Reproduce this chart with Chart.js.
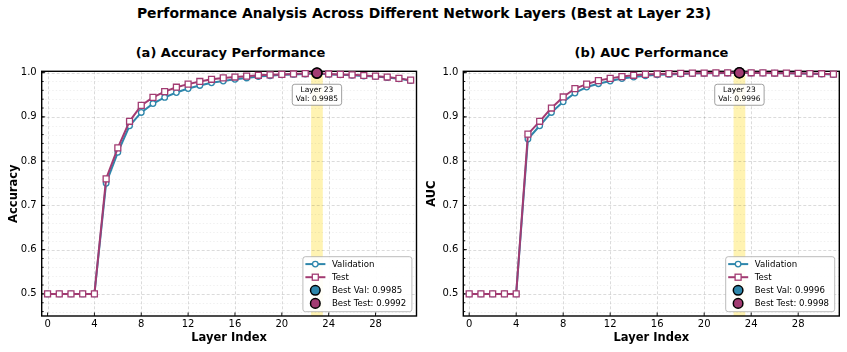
<!DOCTYPE html>
<html><head><meta charset="utf-8">
<script src="https://cdn.jsdelivr.net/npm/chart.js@4.4.1/dist/chart.umd.min.js"></script>
<style>
body{margin:0;background:#fff;width:847px;height:352px;overflow:hidden;position:relative;font-family:'DejaVu Sans',sans-serif;}
.t{position:absolute;font-weight:bold;white-space:nowrap;transform:translate(-50%,-50%);line-height:1;color:#000;}
#c1{position:absolute;left:0;top:0;width:423px;height:352px}
#c2{position:absolute;left:422px;top:0;width:425px;height:352px}
</style></head><body>
<div class="t" style="left:424px;top:14px;font-size:13.9px">Performance Analysis Across Different Network Layers (Best at Layer 23)</div>
<div class="t" style="left:230.5px;top:52px;font-size:13px">(a) Accuracy Performance</div>
<div class="t" style="left:651.5px;top:52px;font-size:13px">(b) AUC Performance</div>
<canvas id="c1" width="423" height="352"></canvas>
<canvas id="c2" width="425" height="352"></canvas>
<script>
const layers = [0,1,2,3,4,5,6,7,8,9,10,11,12,13,14,15,16,17,18,19,20,21,22,23,24,25,26,27,28,29,30,31];
const accVal  = [0.5,0.5,0.5,0.5,0.5,0.75,0.82,0.88,0.91,0.93,0.944,0.955,0.964,0.971,0.977,0.981,0.985,0.988,0.991,0.993,0.995,0.996,0.997,0.9985,0.996,0.995,0.994,0.9925,0.991,0.989,0.986,0.982];
const accTest = [0.5,0.5,0.5,0.5,0.5,0.76,0.83,0.89,0.926,0.944,0.957,0.967,0.974,0.98,0.985,0.988,0.99,0.992,0.994,0.995,0.996,0.997,0.998,0.9992,0.997,0.996,0.995,0.9935,0.992,0.99,0.987,0.983];
const aucVal  = [0.5,0.5,0.5,0.5,0.5,0.85,0.88,0.91,0.934,0.954,0.9675,0.975,0.981,0.9865,0.99,0.993,0.995,0.996,0.997,0.9978,0.9984,0.9988,0.9992,0.9996,0.9992,0.999,0.9987,0.9984,0.998,0.9976,0.997,0.9955];
const aucTest = [0.5,0.5,0.5,0.5,0.5,0.861,0.89,0.92,0.945,0.964,0.974,0.982,0.987,0.991,0.994,0.996,0.997,0.9977,0.9983,0.9988,0.9991,0.9994,0.9996,0.9998,0.9996,0.9994,0.9991,0.9988,0.9985,0.998,0.9975,0.9965];
const bestLayer = 23;
const accBest = [0.9985, 0.9992];
const aucBest = [0.9996, 0.9998];
const xTicks = [0,4,8,12,16,20,24,28];
const yTicks = [0.5,0.6,0.7,0.8,0.9,1.0];

const BLUE = '#2E86AB', MAG = '#A23B72';
Chart.defaults.font.family = "'DejaVu Sans', sans-serif";
Chart.defaults.color = '#000';

function rr(ctx, x, y, w, h, r) {
  ctx.beginPath();
  ctx.moveTo(x + r, y);
  ctx.lineTo(x + w - r, y); ctx.arcTo(x + w, y, x + w, y + r, r);
  ctx.lineTo(x + w, y + h - r); ctx.arcTo(x + w, y + h, x + w - r, y + h, r);
  ctx.lineTo(x + r, y + h); ctx.arcTo(x, y + h, x, y + h - r, r);
  ctx.lineTo(x, y + r); ctx.arcTo(x, y, x + r, y, r);
  ctx.closePath();
}

const decor = {
  id: 'decor',
  beforeDatasetsDraw(chart) {
    const {ctx, chartArea: a, scales: {x, y}} = chart;
    ctx.save();
    ctx.beginPath(); ctx.rect(a.left, a.top, a.width, a.height); ctx.clip();
    const x0 = x.getPixelForValue(bestLayer - 0.5), x1 = x.getPixelForValue(bestLayer + 0.5);
    ctx.fillStyle = 'rgba(255,215,0,0.3)';
    ctx.fillRect(x0, a.top, x1 - x0, a.height);
    ctx.strokeStyle = 'rgba(0,0,0,0.10)'; ctx.lineWidth = 0.6; ctx.setLineDash([1.5, 2]);
    for (let i = 0; i <= 30; i++) {
      const v = 0.44 + i * 0.02;
      if (Math.abs(v * 10 - Math.round(v * 10)) < 1e-6) continue;
      const py = Math.round(y.getPixelForValue(v)) + 0.5;
      ctx.beginPath(); ctx.moveTo(a.left, py); ctx.lineTo(a.right, py); ctx.stroke();
    }
    ctx.strokeStyle = 'rgba(0,0,0,0.18)'; ctx.lineWidth = 0.8; ctx.setLineDash([3, 2]);
    for (const v of yTicks) {
      const py = Math.round(y.getPixelForValue(v)) + 0.5;
      ctx.beginPath(); ctx.moveTo(a.left, py); ctx.lineTo(a.right, py); ctx.stroke();
    }
    for (const v of xTicks) {
      const px = Math.round(x.getPixelForValue(v)) + 0.5;
      ctx.beginPath(); ctx.moveTo(px, a.top); ctx.lineTo(px, a.bottom); ctx.stroke();
    }
    ctx.restore();
    ctx.save();
    ctx.strokeStyle = '#000'; ctx.lineWidth = 0.9;
    for (const v of yTicks) {
      const py = y.getPixelForValue(v);
      ctx.beginPath(); ctx.moveTo(a.left, py); ctx.lineTo(a.left + 3.5, py); ctx.stroke();
    }
    for (let i = 0; i <= 30; i++) {
      const v = 0.44 + i * 0.02;
      if (v < 0.45 || v > 1.003) continue;
      const py = y.getPixelForValue(v);
      ctx.beginPath(); ctx.moveTo(a.left, py); ctx.lineTo(a.left + 2, py); ctx.stroke();
    }
    for (const v of xTicks) {
      const px = x.getPixelForValue(v);
      ctx.beginPath(); ctx.moveTo(px, a.bottom); ctx.lineTo(px, a.bottom - 3.5); ctx.stroke();
    }
    ctx.lineWidth = 1.4;
    ctx.strokeRect(a.left, a.top, a.width, a.height);
    ctx.restore();
  },
  afterDatasetsDraw(chart, args, opts) {
    const {ctx, chartArea: a, scales: {x, y}} = chart;
    const ds = chart.data.datasets;
    ctx.save();
    const cx = x.getPixelForValue(bestLayer), cy = y.getPixelForValue(0.95);
    ctx.font = "7.5px 'DejaVu Sans'";
    const l1 = 'Layer ' + bestLayer, l2 = 'Val: ' + opts.best.toFixed(4);
    const w = Math.max(ctx.measureText(l1).width, ctx.measureText(l2).width) + 7;
    rr(ctx, cx - w / 2, cy - 10.5, w, 21, 2.5);
    ctx.fillStyle = 'rgba(255,255,255,0.85)'; ctx.fill();
    ctx.strokeStyle = '#888'; ctx.lineWidth = 0.8; ctx.stroke();
    ctx.fillStyle = '#000'; ctx.textAlign = 'center'; ctx.textBaseline = 'middle';
    ctx.fillText(l1, cx, cy - 4.5); ctx.fillText(l2, cx, cy + 4.5);
    const bw = 109, bh = 55, bx = a.right - 4.6 - bw, by = a.bottom - 4.3 - bh;
    rr(ctx, bx, by, bw, bh, 2.5);
    ctx.fillStyle = 'rgba(255,255,255,0.9)'; ctx.fill();
    ctx.strokeStyle = '#aaa'; ctx.lineWidth = 0.8; ctx.stroke();
    ctx.font = "8.6px 'DejaVu Sans'"; ctx.textAlign = 'left';
    for (let i = 0; i < 4; i++) {
      const d = ds[i], ry = by + 7.4 + i * 13.1, sx = bx + 12.4;
      if (i < 2) {
        ctx.strokeStyle = d.borderColor; ctx.lineWidth = 2;
        ctx.beginPath(); ctx.moveTo(bx + 2.5, ry); ctx.lineTo(bx + 22.5, ry); ctx.stroke();
        ctx.fillStyle = '#fff'; ctx.lineWidth = 1.3;
        if (i === 0) { ctx.beginPath(); ctx.arc(sx, ry, 2.8, 0, Math.PI * 2); ctx.fill(); ctx.stroke(); }
        else { ctx.fillRect(sx - 3, ry - 3, 6, 6); ctx.strokeRect(sx - 3, ry - 3, 6, 6); }
      } else {
        ctx.beginPath(); ctx.arc(sx, ry, 4.8, 0, Math.PI * 2);
        ctx.fillStyle = d.pointBackgroundColor; ctx.fill();
        ctx.strokeStyle = '#000'; ctx.lineWidth = 1.5; ctx.stroke();
      }
      ctx.fillStyle = '#000';
      ctx.fillText(d.label, bx + 29, ry + 0.5);
    }
    ctx.restore();
  }
};

function makeChart(id, yLabel, val, test, best, padRight, yWidth, yTitlePad) {
  const pts = arr => layers.map((l, i) => ({x: l, y: arr[i]}));
  return new Chart(document.getElementById(id), {
    type: 'line',
    data: {datasets: [
      {label: 'Validation', order: 4, data: pts(val), borderColor: BLUE, borderWidth: 2, pointStyle: 'circle', pointRadius: 2.8, pointBorderWidth: 1.3, pointBackgroundColor: '#fff', pointBorderColor: BLUE, clip: false},
      {label: 'Test', order: 3, data: pts(test), borderColor: MAG, borderWidth: 2, pointStyle: 'rect', pointRadius: 4.2, pointBorderWidth: 1.3, pointBackgroundColor: '#fff', pointBorderColor: MAG, clip: false},
      {label: 'Best Val: ' + best[0].toFixed(4), order: 2, data: [{x: bestLayer, y: best[0]}], showLine: false, pointRadius: 5, pointBackgroundColor: BLUE, pointBorderColor: '#000', pointBorderWidth: 1.5, clip: false},
      {label: 'Best Test: ' + best[1].toFixed(4), order: 1, data: [{x: bestLayer, y: best[1]}], showLine: false, pointRadius: 5, pointBackgroundColor: MAG, pointBorderColor: '#000', pointBorderWidth: 1.5, clip: false}
    ]},
    options: {
      responsive: false, animation: false,
      layout: {padding: {left: 0, top: 71.3, right: padRight, bottom: 0}},
      plugins: {legend: {display: false}, tooltip: {enabled: false}, decor: {best: best[0]}},
      scales: {
        x: {type: 'linear', min: -0.5, max: 31.5,
          afterBuildTicks: s => { s.ticks = xTicks.map(v => ({value: v})); },
          afterFit: s => { s.height = 36; },
          grid: {display: false, drawTicks: false}, border: {display: false},
          ticks: {padding: 2, font: {size: 10}, color: '#000', maxRotation: 0, autoSkip: false, callback: v => String(v)},
          title: {display: true, text: 'Layer Index', font: {size: 11.5, weight: 'bold'}, color: '#000', padding: {top: 0, bottom: 7}}},
        y: {type: 'linear', min: 0.45, max: 1.003,
          afterBuildTicks: s => { s.ticks = yTicks.map(v => ({value: v})); },
          afterFit: s => { s.width = yWidth; },
          grid: {display: false, drawTicks: false}, border: {display: false},
          ticks: {padding: 5, font: {size: 10}, color: '#000', callback: v => Number(v).toFixed(1)},
          title: {display: true, text: yLabel, font: {size: 11.5, weight: 'bold'}, color: '#000', padding: {top: yTitlePad, bottom: 0}}}
      }
    },
    plugins: [decor]
  });
}

makeChart('c1', 'Accuracy', accVal, accTest, accBest, 5, 41.7, 7.5);
makeChart('c2', 'AUC', aucVal, aucTest, aucBest, 7.7, 41.3, 3);
</script>
</body></html>
